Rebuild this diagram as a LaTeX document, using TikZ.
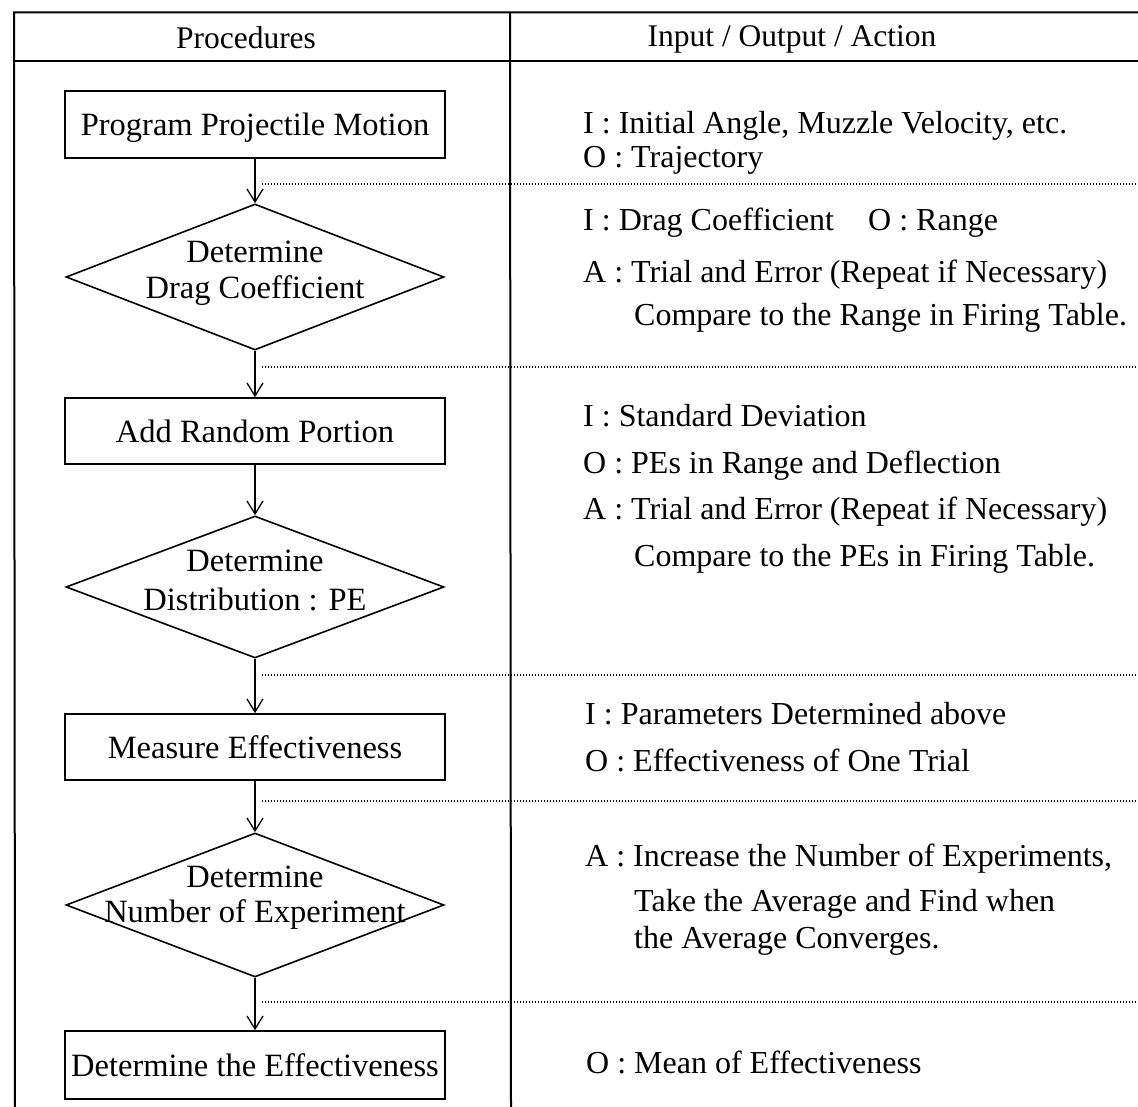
\documentclass[tikz,border=0pt]{standalone}
\usepackage{fontspec}
\setmainfont{Liberation Serif}
\usetikzlibrary{shapes.geometric,arrows.meta}
\begin{document}
\begin{tikzpicture}[x=1pt,y=-1pt,
  box/.style={draw,line width=1.6pt,minimum width=380pt,minimum height=67pt,inner sep=0pt,
    text height=22pt,text depth=0pt,font=\fontsize{32.5}{36}\selectfont},
  dia/.style={draw,diamond,line width=1.6pt,minimum width=378pt,minimum height=146pt,inner sep=0pt},
  dtext/.style={inner sep=0pt,text height=22pt,text depth=0pt,font=\fontsize{32.5}{36}\selectfont},
  rt/.style={anchor=west,inner sep=0pt,text height=22pt,text depth=0pt,font=\fontsize{32}{36}\selectfont},
  hd/.style={inner sep=0pt,text height=22pt,text depth=0pt,font=\fontsize{31.5}{36}\selectfont},
  flow/.style={line width=1.3pt,-{Straight Barb[length=13pt,width=16pt,line width=1.3pt]}},
  sep/.style={line width=1.2pt,dash pattern=on 1.4pt off 1.6pt},
  border/.style={line width=2pt}]
\useasboundingbox (0,0) rectangle (1138,1107);
% table frame
\coordinate (tl) at (14,12.5);
\coordinate (tr) at (1138,12.5);
\coordinate (hl) at (14,61);
\coordinate (hr) at (1138,61);
\coordinate (bl) at (15,1107);
\coordinate (dt) at (510,12.5);
\coordinate (db) at (511,1107);
\draw[border] (tr) -- (tl) -- (bl);
\draw[border] (hl) -- (hr);
\draw[border] (dt) -- (db);
% headers
\node[hd] (h1) at (246,38) {Procedures};
\node[hd] (h2) at (792,36) {Input / Output / Action};
% flowchart
\node[box] (b1) at (255,124.5) {Program Projectile Motion};
\node[dia] (d1) at (255,277) {};
\node[dtext] (d1a) at (255,252) {Determine};
\node[dtext] (d1b) at (255,288) {Drag Coefficient};
\node[box,minimum height=66pt] (b2) at (255,431) {Add Random Portion};
\node[dia,minimum height=142pt] (d2) at (255,587) {};
\node[dtext] (d2a) at (255,560) {Determine};
\node[dtext] (d2b) at (255,599) {Distribution : PE};
\node[box,minimum height=66pt] (b3) at (255,747) {Measure Effectiveness};
\node[dia,minimum height=144pt] (d3) at (255,905) {};
\node[dtext] (d3a) at (255,876) {Determine};
\node[dtext] (d3b) at (255,911) {Number of Experiment};
\node[box,minimum height=68pt] (b4) at (255,1065) {Determine the Effectiveness};
\draw[flow] (b1.south) -- (d1.north);
\draw[flow] (d1.south) -- (b2.north);
\draw[flow] (b2.south) -- (d2.north);
\draw[flow] (d2.south) -- (b3.north);
\draw[flow] (b3.south) -- (d3.north);
\draw[flow] (d3.south) -- (b4.north);
% dotted separators
\coordinate (s1) at (262,184);  \coordinate (e1) at (1138,184);
\coordinate (s2) at (262,367);  \coordinate (e2) at (1138,367);
\coordinate (s3) at (262,675);  \coordinate (e3) at (1138,675);
\coordinate (s4) at (262,801);  \coordinate (e4) at (1138,801);
\coordinate (s5) at (262,1002); \coordinate (e5) at (1138,1002);
\draw[sep] (s1) -- (e1);
\draw[sep] (s2) -- (e2);
\draw[sep] (s3) -- (e3);
\draw[sep] (s4) -- (e4);
\draw[sep] (s5) -- (e5);
% right column
\node[rt] (r1a) at (583,123) {I : Initial Angle, Muzzle Velocity, etc.};
\node[rt] (r1b) at (583,157) {O : Trajectory};
\node[rt] (r2a) at (583,220) {I : Drag Coefficient};
\node[rt] (r2b) at (868,220) {O : Range};
\node[rt] (r2c) at (583,272) {A : Trial and Error (Repeat if Necessary)};
\node[rt] (r2d) at (634,315) {Compare to the Range in Firing Table.};
\node[rt] (r3a) at (583,415) {I : Standard Deviation};
\node[rt] (r3b) at (583,462) {O : PEs in Range and Deflection};
\node[rt] (r3c) at (583,508) {A : Trial and Error (Repeat if Necessary)};
\node[rt] (r3d) at (634,555) {Compare to the PEs in Firing Table.};
\node[rt] (r4a) at (585,713) {I : Parameters Determined above};
\node[rt] (r4b) at (585,760) {O : Effectiveness of One Trial};
\node[rt] (r5a) at (585,855) {A : Increase the Number of Experiments,};
\node[rt] (r5b) at (634,900) {Take the Average and Find when};
\node[rt] (r5c) at (634,937) {the Average Converges.};
\node[rt] (r6a) at (586,1062) {O : Mean of Effectiveness};
\end{tikzpicture}
\end{document}
